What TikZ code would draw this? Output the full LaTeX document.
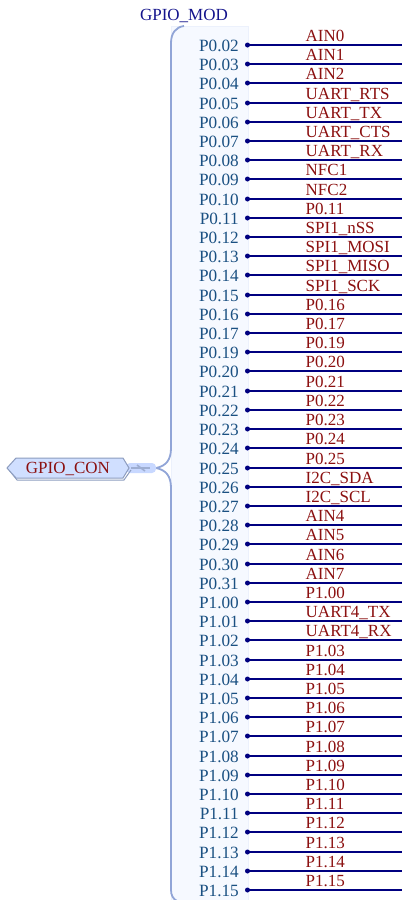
\documentclass[tikz,border=0pt]{standalone}
\usepackage{fontspec}
\setmainfont{Liberation Serif}
\definecolor{pintext}{RGB}{26,80,130}
\definecolor{sigtext}{RGB}{139,16,16}
\definecolor{wirec}{RGB}{0,0,128}
\definecolor{titlec}{RGB}{20,20,140}
\definecolor{panelc}{RGB}{246,249,255}
\definecolor{panelb}{RGB}{236,241,252}
\definecolor{bracec}{RGB}{145,165,215}
\definecolor{hexfill}{RGB}{208,223,255}
\definecolor{hexline}{RGB}{140,156,190}
\definecolor{blobc}{RGB}{200,216,255}
\tikzset{
  pinlabel/.style={anchor=east,inner sep=0pt,text=pintext,font=\fontsize{17.2}{17}\selectfont},
  siglabel/.style={anchor=base west,inner sep=0pt,text=sigtext,font=\fontsize{17}{17}\selectfont},
  pindot/.style={circle,fill=wirec,inner sep=0pt,minimum size=5pt},
  wire/.style={draw=wirec,line width=2pt},
  brace/.style={draw=bracec,line width=1.8pt}
}
\begin{document}
\begin{tikzpicture}[x=1pt,y=-1pt]
\useasboundingbox (0,0) rectangle (405,900);
\fill[panelc,draw=panelb,line width=0.8pt] (171,26.5) rectangle (248,901);
\coordinate (bracetop) at (184,26);
\coordinate (bracebot) at (177,901);
\coordinate (braceroot) at (156,468);
\draw[brace] (bracetop) .. controls (176,27) and (171,33) .. (171,43) -- (171,448)
  .. controls (171,460) and (166,466) .. (braceroot)
  .. controls (166,470) and (171,476) .. (171,488) -- (171,890)
  .. controls (171,895) and (173,899) .. (bracebot);
\node[inner sep=0pt,text=titlec,font=\fontsize{17}{17}\selectfont] (title) at (184,16) {GPIO\_MOD};
% hub
\fill[blobc,rounded corners=4pt] (126,463) rectangle (156,473);
\coordinate (hubl) at (131,468);
\coordinate (hubr) at (150,468);
\draw[hexline!70!blobc,line width=1.6pt] (hubl) -- (hubr);
\draw[hexline!70!blobc,line width=1.6pt] (137,465) -- (145,471);
% hexagon with shadow
\draw[hexline,line width=1pt] (9,470) -- (17,480) -- (124,480) -- (131,470);
\draw[hexline,fill=hexfill,line width=1pt] (7,468) -- (16,458) -- (123,458) -- (129,468) -- (123,478) -- (16,478) -- cycle;
\node[inner sep=0pt,text=sigtext,font=\fontsize{17}{17}\selectfont,anchor=base] (con) at (68,473) {GPIO\_CON};
\foreach \p/\s [count=\i from 0] in {
 P0.02/AIN0,P0.03/AIN1,P0.04/AIN2,P0.05/UART\_RTS,P0.06/UART\_TX,P0.07/UART\_CTS,P0.08/UART\_RX,
 P0.09/NFC1,P0.10/NFC2,P0.11/P0.11,P0.12/SPI1\_nSS,P0.13/SPI1\_MOSI,P0.14/SPI1\_MISO,P0.15/SPI1\_SCK,
 P0.16/P0.16,P0.17/P0.17,P0.19/P0.19,P0.20/P0.20,P0.21/P0.21,P0.22/P0.22,P0.23/P0.23,P0.24/P0.24,P0.25/P0.25,
 P0.26/I2C\_SDA,P0.27/I2C\_SCL,P0.28/AIN4,P0.29/AIN5,P0.30/AIN6,P0.31/AIN7,
 P1.00/P1.00,P1.01/UART4\_TX,P1.02/UART4\_RX,P1.03/P1.03,P1.04/P1.04,P1.05/P1.05,P1.06/P1.06,P1.07/P1.07,
 P1.08/P1.08,P1.09/P1.09,P1.10/P1.10,P1.11/P1.11,P1.12/P1.12,P1.13/P1.13,P1.14/P1.14,P1.15/P1.15}
{
  \pgfmathsetmacro{\yy}{round(45+19.205*\i)}
  \node[pindot] (dot\i) at (247.5,\yy) {};
  \coordinate (end\i) at (402,\yy);
  \draw[wire] (dot\i.center) -- (end\i);
  \node[pinlabel] (pin\i) at (239,\yy+0.5) {\p};
  \node[siglabel] (sig\i) at (305.5,\yy-4) {\s};
}
\end{tikzpicture}
\end{document}
